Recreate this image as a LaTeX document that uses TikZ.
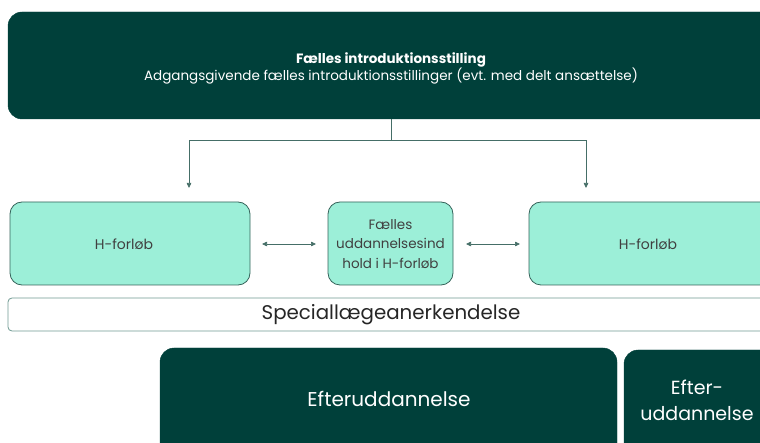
\documentclass[tikz,border=0pt]{standalone}
\usepackage{fontspec}
\setmainfont{Poppins}
\usetikzlibrary{arrows.meta}
\definecolor{darkg}{HTML}{00403A}
\definecolor{mint}{HTML}{9CEFD8}
\definecolor{mintb}{HTML}{35635A}
\definecolor{linec}{HTML}{456E67}
\definecolor{lightb}{HTML}{6F9A92}
\begin{document}
\begin{tikzpicture}[x=1pt,y=-1pt,
  darkbox/.style={fill=darkg,draw=darkg,rounded corners=14pt,text=white},
  mintbox/.style={fill=mint,draw=mintb,line width=0.8pt,rounded corners=12pt,text=black!75},
  conn/.style={draw=linec,line width=0.7pt},
  tip/.style={-{Triangle[length=5pt,width=4.5pt]}},
  dtip/.style={{Triangle[length=5pt,width=4.5pt]}-{Triangle[length=5pt,width=4.5pt]}}]
\useasboundingbox (0,0) rectangle (760,443);
\clip (0,0) rectangle (760,443);
% top box
\path[darkbox] (8,12) rectangle (780,119);
\node[text=white,font=\fontsize{13.5}{17}\selectfont,align=center] (top) at (391,68)
  {\textbf{Fælles introduktionsstilling}\\Adgangsgivende fælles introduktionsstillinger (evt. med delt ansættelse)};
\coordinate (tb) at (391,119);
\coordinate (j) at (391,140);
% H boxes
\path[mintbox] (10,202) rectangle (250,285);
\node[text=black!75,font=\fontsize{14}{15}\selectfont] (h1) at (124,244) {H-forløb};
\path[mintbox] (328,202) rectangle (453,285);
\node[text=black!75,font=\fontsize{13.5}{19.5}\selectfont,align=center] (mid) at (390.5,244) {Fælles\\uddannelsesind\\hold i H-forløb};
\path[mintbox] (529,202) rectangle (790,285);
\node[text=black!75,font=\fontsize{14}{15}\selectfont] (h2) at (648,244) {H-forløb};
\coordinate (a1) at (189,188);
\coordinate (a2) at (586,188);
\draw[conn] (tb) -- (j);
\draw[conn,tip] (j) -| (a1);
\draw[conn,tip] (j) -| (a2);
\coordinate (l1) at (262,244);
\coordinate (l2) at (316,244);
\coordinate (r1) at (466,244);
\coordinate (r2) at (520,244);
\draw[conn,dtip] (l1) -- (l2);
\draw[conn,dtip] (r1) -- (r2);
% Speciallaegeanerkendelse
\path[draw=lightb,line width=0.8pt,fill=white,rounded corners=4pt] (8,298) rectangle (790,331);
\node[text=black!85,font=\fontsize{19.8}{20}\selectfont] (spec) at (391,315) {Speciallægeanerkendelse};
% bottom
\path[darkbox] (160,348) rectangle (617,470);
\node[text=white,font=\fontsize{20}{20}\selectfont] (e1) at (389,399) {Efteruddannelse};
\path[darkbox] (624,350) rectangle (800,470);
\node[text=white,font=\fontsize{19}{26}\selectfont,align=center] (e2) at (697,400) {Efter-\\uddannelse};
\end{tikzpicture}
\end{document}
